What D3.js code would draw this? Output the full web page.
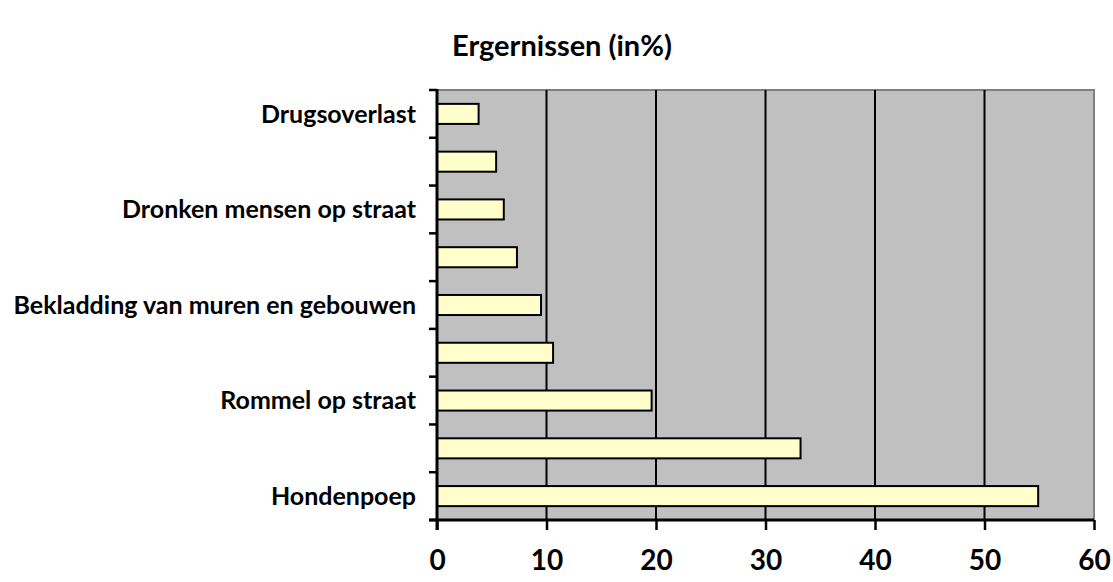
<!DOCTYPE html>
<html>
<head>
<meta charset="utf-8">
<script src="https://cdn.jsdelivr.net/npm/d3@7"></script>
<style>
  body { margin: 0; background: white; }
  text { font-family: Lato, "Open Sans", sans-serif; font-weight: bold; }
</style>
</head>
<body>
<div id="chartWrapper"></div>
<script>
// categories, bottom to top (only every other one carries a label in the original)
var labels = ["Hondenpoep", "", "Rommel op straat", "", "Bekladding van muren en gebouwen", "", "Dronken mensen op straat", "", "Drugsoverlast"];
var values = [54.9, 33.2, 19.6, 10.6, 9.5, 7.3, 6.1, 5.4, 3.8];
var xTicks = [0, 10, 20, 30, 40, 50, 60];
var title = "Ergernissen (in%)";

function draw_chart() {
    var w = 1113;
    var h = 582;
    var left = 437, right = 1094, top = 90, bottom = 520;

    var svg = d3.select("#chartWrapper")
        .append("svg")
        .attr("width", w)
        .attr("height", h);

    var x = d3.scaleLinear().domain([0, 60]).range([left, right]);
    var y = d3.scaleBand()
        .domain(d3.range(labels.length))
        .range([bottom, top])
        .paddingInner(0.58)
        .paddingOuter(0.29);
    var yb = d3.scaleBand().domain(d3.range(labels.length)).range([bottom, top]);

    // plot area
    svg.append("rect")
        .attr("x", left)
        .attr("y", top)
        .attr("width", right - left)
        .attr("height", bottom - top)
        .style("fill", "#c0c0c0")
        .style("stroke", "#808080")
        .style("stroke-width", 2);

    // gridlines
    svg.selectAll(".grid")
        .data(xTicks.slice(1, -1))
        .enter().append("line")
        .attr("class", "grid")
        .attr("x1", d => x(d))
        .attr("x2", d => x(d))
        .attr("y1", top)
        .attr("y2", bottom)
        .style("stroke", "#000")
        .style("stroke-width", 2);

    // bars
    svg.selectAll(".bar")
        .data(values)
        .enter().append("rect")
        .attr("class", "bar")
        .attr("x", x(0))
        .attr("y", (d, i) => y(i))
        .attr("width", d => x(d) - x(0))
        .attr("height", y.bandwidth())
        .style("fill", "#ffffcc")
        .style("stroke", "#000")
        .style("stroke-width", 2);

    // x axis
    var xAxis = d3.axisBottom(x).tickValues(xTicks).tickSize(10).tickPadding(20);
    var gx = svg.append("g")
        .attr("transform", "translate(0," + bottom + ")")
        .call(xAxis);
    gx.select(".domain").attr("d", "M" + (left - 8) + ",0H" + right).style("stroke-width", 3);
    gx.selectAll(".tick line").style("stroke-width", 2.5);
    gx.selectAll(".tick text")
        .style("font-size", "28px")
        .style("fill", "#000");

    // y axis: ticks at band edges
    var edges = d3.range(labels.length + 1);
    svg.selectAll(".ytick")
        .data(edges)
        .enter().append("line")
        .attr("class", "ytick")
        .attr("x1", left - 8)
        .attr("x2", left)
        .attr("y1", d => bottom - d * yb.step())
        .attr("y2", d => bottom - d * yb.step())
        .style("stroke", "#000")
        .style("stroke-width", 2.5);
    svg.append("line")
        .attr("x1", left)
        .attr("x2", left)
        .attr("y1", top - 1)
        .attr("y2", bottom + 10)
        .style("stroke", "#000")
        .style("stroke-width", 3);

    svg.selectAll(".ylab")
        .data(labels)
        .enter().append("text")
        .attr("class", "ylab")
        .attr("x", 416)
        .attr("y", (d, i) => yb(i) + yb.bandwidth() / 2)
        .attr("dy", "0.35em")
        .attr("text-anchor", "end")
        .style("font-size", "25px")
        .text(d => d);

    svg.append("text")
        .attr("x", 562)
        .attr("y", 46)
        .attr("dy", "0.35em")
        .attr("text-anchor", "middle")
        .style("font-size", "29px")
        .text(title);

    return svg;
}

var svg = draw_chart();
</script>
</body>
</html>
